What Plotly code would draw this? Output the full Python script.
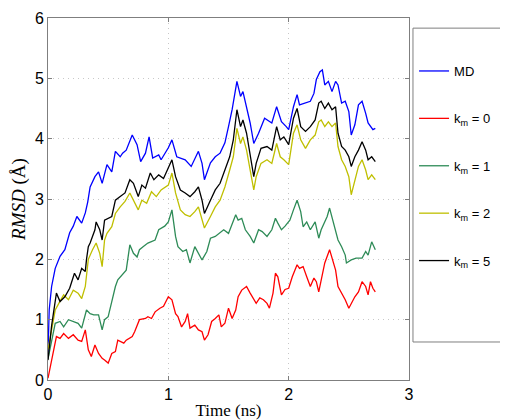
import plotly.graph_objects as go

# ---- data ----
t_md = [0.0, 0.01, 0.03, 0.06, 0.1, 0.14, 0.18, 0.21, 0.24, 0.28, 0.31, 0.33, 0.35, 0.39, 0.42, 0.45, 0.49,
        0.53, 0.56, 0.6, 0.62, 0.65, 0.70, 0.74, 0.77, 0.81, 0.84, 0.87, 0.92, 0.94, 1.0, 1.03, 1.07,
        1.14, 1.19, 1.25, 1.28, 1.30, 1.35, 1.39, 1.43, 1.47, 1.50, 1.53, 1.57, 1.60, 1.62, 1.65, 1.68,
        1.71, 1.75, 1.80, 1.86, 1.90, 1.94, 1.98, 2.0, 2.04, 2.07, 2.09, 2.14, 2.18, 2.21, 2.23, 2.26,
        2.28, 2.30, 2.33, 2.36, 2.39, 2.41, 2.44, 2.47, 2.50, 2.52, 2.55, 2.58, 2.61, 2.64, 2.66, 2.70, 2.72]
md = [0.45, 1.16, 1.55, 1.85, 2.05, 2.16, 2.44, 2.55, 2.71, 2.6, 2.77, 2.95, 3.2, 3.37, 3.45, 3.26, 3.57,
      3.45, 3.79, 3.7, 3.76, 3.81, 4.06, 3.9, 3.62, 3.76, 4.03, 3.68, 3.73, 3.65, 3.85, 3.98, 3.70,
      3.65, 3.54, 3.79, 3.59, 3.32, 3.6, 3.70, 3.76, 3.93, 4.2, 4.48, 4.95, 4.70, 4.78, 4.53, 4.26,
      3.92, 4.09, 4.34, 4.26, 4.53, 4.28, 4.2, 4.15, 4.53, 4.73, 4.56, 4.59, 4.62, 4.75, 4.98, 5.11,
      5.14, 4.89, 4.95, 4.78, 4.95, 4.89, 4.59, 4.62, 4.45, 4.06, 4.23, 4.56, 4.62, 4.42, 4.26, 4.15, 4.17]

t_k0 = [0.0, 0.03, 0.07, 0.1, 0.13, 0.17, 0.21, 0.25, 0.28, 0.31, 0.335, 0.36, 0.39, 0.42, 0.45, 0.47,
        0.5, 0.53, 0.56, 0.58, 0.63, 0.65, 0.70, 0.72, 0.76, 0.81, 0.83, 0.86, 0.89, 0.93, 0.96, 1.0,
        1.03, 1.06, 1.08, 1.11, 1.14, 1.16, 1.18, 1.22, 1.25, 1.28, 1.30, 1.33, 1.36, 1.39, 1.42, 1.44,
        1.47, 1.50, 1.53, 1.56, 1.58, 1.61, 1.65, 1.68, 1.71, 1.73, 1.76, 1.79, 1.82, 1.84, 1.87, 1.89,
        1.91, 1.94, 1.97, 2.0, 2.03, 2.07, 2.09, 2.12, 2.15, 2.18, 2.21, 2.23, 2.25, 2.27, 2.30, 2.34,
        2.36, 2.39, 2.41, 2.44, 2.47, 2.50, 2.52, 2.55, 2.58, 2.61, 2.64, 2.66, 2.68, 2.70, 2.72]
k0 = [0.03, 0.33, 0.72, 0.69, 0.77, 0.69, 0.75, 0.66, 0.64, 0.83, 0.5, 0.39, 0.58, 0.44, 0.36, 0.33,
      0.28, 0.44, 0.47, 0.66, 0.61, 0.66, 0.72, 0.8, 1.0, 1.02, 1.05, 1.02, 1.13, 1.19, 1.22, 1.38,
      1.33, 1.1, 1.05, 0.88, 0.97, 1.1, 0.86, 0.91, 0.83, 0.8, 0.66, 0.75, 0.97, 1.02, 1.08, 0.88,
      0.94, 1.19, 1.02, 1.16, 1.38, 1.49, 1.55, 1.44, 1.33, 1.27, 1.36, 1.33, 1.27, 1.19, 1.44, 1.77,
      1.71, 1.41, 1.50, 1.52, 1.71, 1.91, 1.85, 1.88, 1.71, 1.55, 1.69, 1.63, 1.46, 1.66, 1.94, 2.16,
      2.02, 1.82, 1.55, 1.44, 1.33, 1.19, 1.27, 1.38, 1.46, 1.63, 1.55, 1.41, 1.63, 1.52, 1.46]

t_k1 = [0.0, 0.03, 0.06, 0.1, 0.13, 0.17, 0.21, 0.25, 0.28, 0.32, 0.35, 0.38, 0.42, 0.45, 0.47, 0.5,
        0.53, 0.56, 0.58, 0.63, 0.65, 0.68, 0.71, 0.74, 0.76, 0.79, 0.83, 0.89, 0.92, 0.97, 1.0, 1.03,
        1.06, 1.08, 1.12, 1.15, 1.18, 1.22, 1.25, 1.28, 1.32, 1.35, 1.39, 1.42, 1.46, 1.50, 1.53, 1.56,
        1.58, 1.61, 1.64, 1.68, 1.71, 1.75, 1.78, 1.82, 1.86, 1.89, 1.91, 1.94, 1.97, 2.01, 2.04, 2.07,
        2.10, 2.12, 2.15, 2.18, 2.22, 2.25, 2.27, 2.32, 2.34, 2.36, 2.39, 2.41, 2.44, 2.47, 2.48, 2.52,
        2.56, 2.61, 2.64, 2.66, 2.69, 2.72]
k1 = [0.35, 0.66, 0.94, 0.97, 0.88, 1.0, 0.97, 0.94, 0.86, 1.16, 1.1, 1.08, 1.08, 0.83, 1.0, 1.05,
      1.3, 1.55, 1.66, 1.77, 1.82, 2.24, 2.1, 2.04, 2.16, 2.21, 2.27, 2.32, 2.49, 2.55, 2.62, 2.82,
      2.38, 2.21, 2.13, 2.16, 1.94, 2.21, 2.1, 1.99, 2.13, 2.35, 2.38, 2.43, 2.49, 2.43, 2.6, 2.74,
      2.65, 2.68, 2.49, 2.38, 2.27, 2.49, 2.46, 2.38, 2.49, 2.68, 2.6, 2.49, 2.55, 2.65, 2.82, 2.98,
      2.79, 2.54, 2.62, 2.49, 2.62, 2.35, 2.49, 2.71, 2.85, 2.71, 2.49, 2.32, 2.21, 2.07, 1.94, 1.99,
      2.02, 2.02, 2.13, 2.07, 2.29, 2.16]

t_k2 = [0.0, 0.03, 0.06, 0.09, 0.13, 0.17, 0.21, 0.25, 0.28, 0.31, 0.335, 0.37, 0.4, 0.43, 0.45, 0.47,
        0.49, 0.53, 0.56, 0.6, 0.64, 0.68, 0.71, 0.75, 0.78, 0.82, 0.86, 0.90, 0.94, 1.0, 1.03, 1.06,
        1.10, 1.14, 1.18, 1.22, 1.25, 1.28, 1.30, 1.35, 1.39, 1.43, 1.47, 1.51, 1.54, 1.57, 1.60, 1.62,
        1.65, 1.68, 1.71, 1.73, 1.77, 1.82, 1.86, 1.90, 1.93, 1.96, 2.0, 2.04, 2.07, 2.1, 2.14, 2.18,
        2.22, 2.25, 2.27, 2.30, 2.33, 2.36, 2.39, 2.41, 2.44, 2.47, 2.50, 2.52, 2.55, 2.58, 2.61, 2.64,
        2.66, 2.69, 2.72]
k2 = [0.5, 0.85, 1.16, 1.27, 1.41, 1.33, 1.49, 1.44, 1.35, 1.55, 2.0, 2.16, 2.27, 2.1, 1.88, 2.32,
      2.43, 2.54, 2.76, 2.87, 2.96, 3.1, 2.98, 2.82, 2.98, 2.93, 3.12, 3.04, 3.15, 3.23, 3.43, 3.1,
      2.82, 2.74, 2.71, 2.79, 2.87, 2.65, 2.52, 2.71, 2.87, 2.98, 3.2, 3.48, 3.7, 4.17, 3.92, 4.03,
      3.81, 3.48, 3.15, 3.37, 3.59, 3.65, 3.59, 3.92, 3.7, 3.65, 3.57, 4.09, 4.23, 3.98, 3.84, 3.98,
      4.06, 4.28, 4.31, 4.2, 4.28, 4.2, 4.26, 3.87, 3.65, 3.54, 3.37, 3.07, 3.32, 3.54, 3.65, 3.48,
      3.32, 3.4, 3.32]

t_k5 = [0.0, 0.03, 0.07, 0.1, 0.14, 0.18, 0.22, 0.25, 0.28, 0.31, 0.32, 0.335, 0.35, 0.39, 0.40, 0.43,
        0.45, 0.47, 0.53, 0.56, 0.6, 0.64, 0.68, 0.71, 0.75, 0.78, 0.81, 0.85, 0.88, 0.92, 0.96, 1.0,
        1.03, 1.06, 1.10, 1.14, 1.18, 1.22, 1.25, 1.28, 1.30, 1.35, 1.39, 1.43, 1.47, 1.51, 1.54, 1.57,
        1.60, 1.62, 1.65, 1.68, 1.71, 1.73, 1.77, 1.82, 1.86, 1.90, 1.93, 1.96, 2.0, 2.04, 2.07, 2.1,
        2.14, 2.18, 2.22, 2.25, 2.27, 2.30, 2.33, 2.36, 2.39, 2.41, 2.44, 2.47, 2.50, 2.52, 2.55, 2.58,
        2.61, 2.64, 2.66, 2.69, 2.72]
k5 = [0.33, 0.9, 1.44, 1.3, 1.38, 1.52, 1.77, 1.66, 1.85, 1.8, 2.0, 2.21, 2.27, 2.49, 2.62, 2.49,
      2.32, 2.65, 2.71, 2.98, 3.04, 3.1, 3.32, 3.26, 3.04, 3.23, 3.18, 3.43, 3.32, 3.4, 3.34, 3.51,
      3.65, 3.37, 3.15, 3.1, 3.04, 3.12, 3.2, 2.98, 2.76, 2.98, 3.15, 3.26, 3.48, 3.7, 3.98, 4.48,
      4.2, 4.31, 4.09, 3.7, 3.37, 3.59, 3.84, 3.87, 3.81, 4.2, 3.98, 4.03, 3.9, 4.34, 4.5, 4.2,
      4.12, 4.2, 4.31, 4.59, 4.62, 4.5, 4.59, 4.48, 4.53, 4.09, 3.87, 3.81, 3.7, 3.54, 3.7, 3.81,
      3.95, 3.81, 3.65, 3.7, 3.62]

series_names = ["MD", "k<sub>m</sub> = 0", "k<sub>m</sub> = 1", "k<sub>m</sub> = 2", "k<sub>m</sub> = 5"]
series_t = [t_md, t_k0, t_k1, t_k2, t_k5]
series_y = [md, k0, k1, k2, k5]
colors = ["#0000FF", "#FF0000", "#2E8B57", "#BFBF00", "#000000"]

x_ticks = [0, 1, 2, 3]
y_ticks = [0, 1, 2, 3, 4, 5, 6]

fig = go.Figure()
for i, (nm, tt, yy) in enumerate(zip(series_names, series_t, series_y)):
    fig.add_trace(go.Scatter(x=tt, y=yy, mode="lines", name=nm, legendgroup=str(i),
                             line=dict(color=colors[i], width=1.3)))

axis_common = dict(showline=True, linecolor="#7f7f7f", linewidth=1, mirror="ticks",
                   ticks="inside", ticklen=4, tickcolor="#7f7f7f", automargin=False,
                   showgrid=True, gridcolor="#c8c8c8", griddash="1px,4px", gridwidth=1,
                   zeroline=False, tickfont=dict(family="Liberation Sans, Arial", size=16, color="black"))

fig.update_layout(
    width=500, height=412,
    margin=dict(l=40, r=99, t=10, b=40, autoexpand=False),
    plot_bgcolor="white", paper_bgcolor="white",
    xaxis=dict(range=[0, 3], tickvals=x_ticks, ticktext=[str(v) for v in x_ticks],
               title=dict(text="Time (ns)", font=dict(family="Liberation Serif, Times New Roman", size=17, color="black"),
                          standoff=1), **axis_common),
    yaxis=dict(range=[0, 6], tickvals=y_ticks, ticktext=[str(v) for v in y_ticks],
               title=dict(text="<i>RMSD</i> (Å)", font=dict(family="Liberation Serif, Times New Roman", size=19, color="black"),
                          standoff=4), **axis_common),
    legend=dict(x=1.014, y=0.895, xanchor="left", yanchor="top", bgcolor="rgba(0,0,0,0)",
                borderwidth=0, tracegroupgap=27.5,
                font=dict(family="Liberation Sans, Arial", size=13, color="black")),
    shapes=[dict(type="rect", xref="paper", yref="paper", x0=1.011, x1=1.5, y0=0.105, y1=0.972,
                 line=dict(color="#7f7f7f", width=1), fillcolor="rgba(0,0,0,0)")],
    showlegend=True,
)

fig.write_html("out.html")
